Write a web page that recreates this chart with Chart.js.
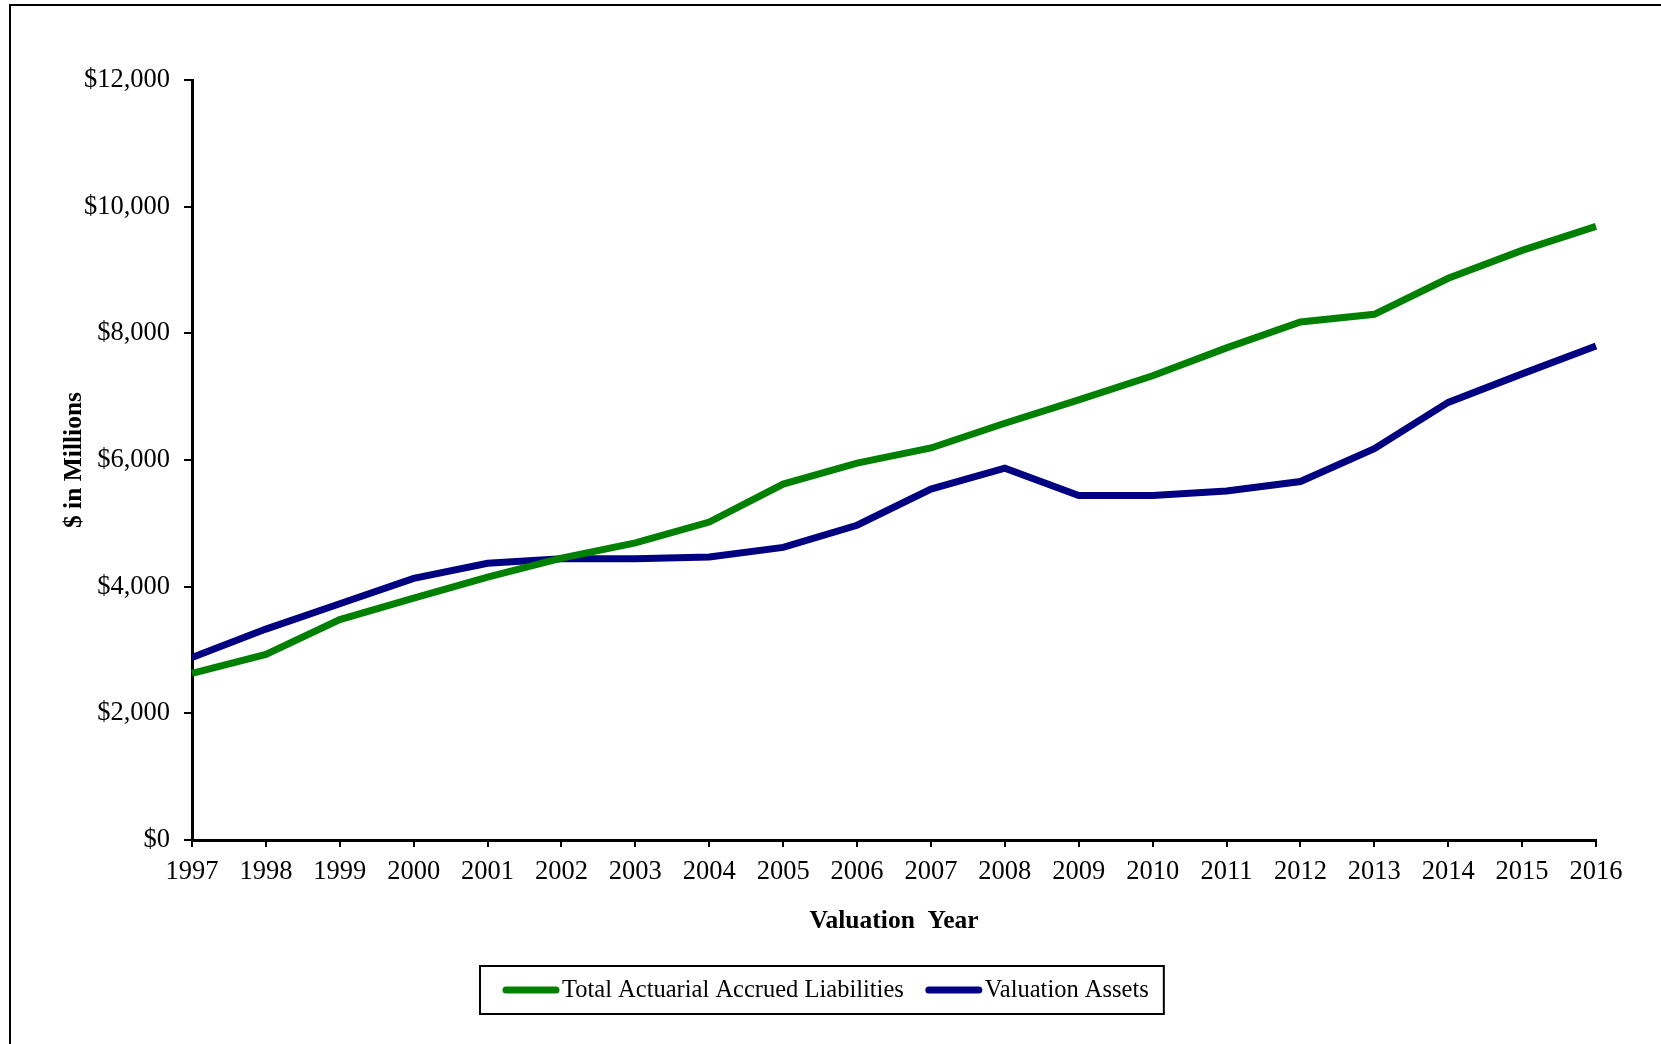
<!DOCTYPE html>
<html>
<head>
<meta charset="utf-8">
<script src="https://cdn.jsdelivr.net/npm/chart.js@4"></script>
<style>
  html, body { margin: 0; padding: 0; background: #fff; }
  #wrap { width: 1661px; height: 1044px; position: relative; }
</style>
</head>
<body>
<div id="wrap"><canvas id="chart" width="1661" height="1044"></canvas></div>
<script>
// --- Data ---
const years = ['1997', '1998', '1999', '2000', '2001', '2002', '2003', '2004', '2005', '2006',
  '2007', '2008', '2009', '2010', '2011', '2012', '2013', '2014', '2015', '2016'];
const liabilities = [2630, 2930, 3480, 3820, 4150, 4450, 4690, 5020, 5620, 5950,
  6190, 6580, 6950, 7330, 7770, 8180, 8300, 8870, 9310, 9690];
const assets = [2880, 3330, 3730, 4130, 4370, 4440, 4440, 4470, 4620, 4970,
  5540, 5870, 5440, 5440, 5510, 5660, 6180, 6910, 7360, 7800];
const yTicks = [0, 2000, 4000, 6000, 8000, 10000, 12000];

const serif = "'Liberation Serif', 'Times New Roman', serif";
const green = '#008000';
const navy = '#000080';

// white page + the outer frame (only top and left edges are visible)
const frame = {
  id: 'frame',
  beforeDraw(chart) {
    const ctx = chart.ctx;
    ctx.save();
    ctx.fillStyle = '#fff';
    ctx.fillRect(0, 0, chart.width, chart.height);
    ctx.strokeStyle = '#000';
    ctx.lineWidth = 2;
    ctx.beginPath();
    ctx.moveTo(chart.width, 5);
    ctx.lineTo(10, 5);
    ctx.lineTo(10, chart.height);
    ctx.stroke();
    ctx.restore();
  }
};

// boxed legend under the axis title
const boxedLegend = {
  id: 'boxedLegend',
  afterDraw(chart) {
    const ctx = chart.ctx;
    ctx.save();
    ctx.font = '24.5px ' + serif;
    const sample = 56, gap = 3, itemGap = 22, padL = 23, padR = 15;
    const items = chart.data.datasets.map(ds => ({
      label: ds.label,
      color: ds.borderColor,
      w: sample + gap + ctx.measureText(ds.label).width
    }));
    const inner = items.reduce((s, it) => s + it.w, 0) + itemGap * (items.length - 1);
    const boxW = inner + padL + padR;
    const boxH = 48;
    const left = 480, top = 966;
    ctx.strokeStyle = '#000';
    ctx.lineWidth = 2;
    ctx.strokeRect(left, top, boxW, boxH);
    let x = left + padL;
    const y = top + boxH / 2;
    items.forEach(it => {
      ctx.strokeStyle = it.color;
      ctx.lineWidth = 7;
      ctx.lineCap = 'round';
      ctx.beginPath();
      ctx.moveTo(x + 3, y);
      ctx.lineTo(x + sample - 3, y);
      ctx.stroke();
      ctx.fillStyle = '#000';
      ctx.textBaseline = 'middle';
      ctx.fillText(it.label, x + sample + gap, y + 1);
      x += it.w + itemGap;
    });
    ctx.restore();
  }
};

new Chart(document.getElementById('chart'), {
  type: 'line',
  data: {
    labels: years,
    datasets: [
      {
        label: 'Total Actuarial Accrued Liabilities',
        data: liabilities,
        borderColor: green,
        backgroundColor: green,
        borderWidth: 7,
        pointRadius: 0,
        tension: 0
      },
      {
        label: 'Valuation Assets',
        data: assets,
        borderColor: navy,
        backgroundColor: navy,
        borderWidth: 7,
        pointRadius: 0,
        tension: 0
      }
    ]
  },
  options: {
    responsive: false,
    animation: false,
    devicePixelRatio: 1,
    layout: { padding: { top: 80, left: 0, right: 65, bottom: 94 } },
    plugins: {
      legend: { display: false },
      tooltip: { enabled: false }
    },
    scales: {
      x: {
        offset: false,
        afterFit: scale => { scale.height = 110; },
        grid: { drawOnChartArea: false, drawTicks: true, tickLength: 7, color: '#000', lineWidth: 2 },
        border: { display: true, color: '#000', width: 3 },
        ticks: {
          color: '#000',
          font: { family: serif, size: 26.5 },
          padding: 9,
          maxRotation: 0,
          autoSkip: false
        },
        title: {
          display: true,
          text: 'Valuation  Year',
          color: '#000',
          font: { family: serif, size: 25.5, weight: 'bold' },
          padding: { top: 0, bottom: 13 }
        }
      },
      y: {
        min: 0,
        max: 12000,
        afterFit: scale => { scale.width = 192; },
        afterBuildTicks: scale => { scale.ticks = yTicks.map(v => ({ value: v })); },
        grid: { drawOnChartArea: false, drawTicks: true, tickLength: 8, color: '#000', lineWidth: 2 },
        border: { display: true, color: '#000', width: 3 },
        ticks: {
          color: '#000',
          font: { family: serif, size: 26.5 },
          padding: 14,
          callback: v => '$' + v.toLocaleString('en-US')
        },
        title: {
          display: true,
          text: '$ in Millions',
          color: '#000',
          font: { family: serif, size: 25.5, weight: 'bold' },
          padding: { top: 59, bottom: 0 }
        }
      }
    }
  },
  plugins: [frame, boxedLegend]
});
</script>
</body>
</html>
